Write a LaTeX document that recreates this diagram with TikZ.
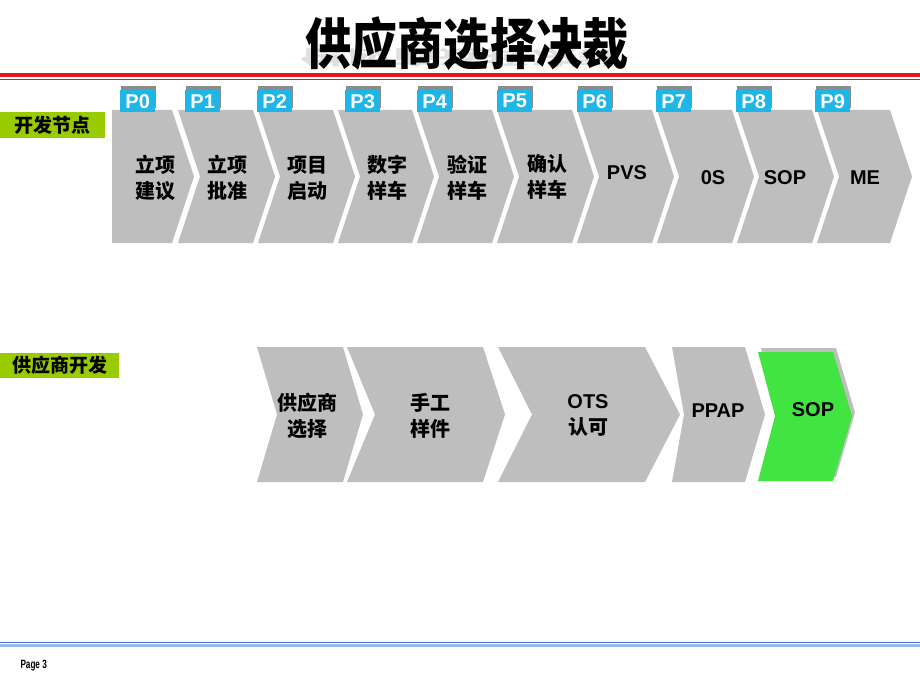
\documentclass[tikz,border=0pt]{standalone}
\usepackage{fontspec}
\setmainfont{Liberation Sans}
\newfontfamily\cjk{Noto Sans CJK SC}
\usepackage{tikz}
\usetikzlibrary{shadows}
\definecolor{chevgray}{HTML}{BEBEBE}
\definecolor{tabgray}{HTML}{8C8C8C}
\definecolor{tabcyan}{HTML}{1EB6E6}
\definecolor{labelgreen}{HTML}{99CC00}
\definecolor{sopgreen}{HTML}{42E442}
\definecolor{linered}{HTML}{E8161B}
\definecolor{lineblue}{HTML}{4472C4}
\definecolor{lightblue}{HTML}{9DB9EA}

\begin{document}
\begin{tikzpicture}[x=1pt,y=-1pt,
    chev/.style={fill=chevgray},
    zhtext/.style={align=center,font=\fontsize{20}{26}\selectfont\bfseries\cjk},
    entext/.style={align=center,font=\fontsize{20}{26}\selectfont\bfseries},
    ptab/.style={fill=tabcyan,text=white,anchor=north west,minimum width=35pt,minimum height=22pt,
      inner sep=0pt,font=\fontsize{20}{22}\selectfont\bfseries,
      drop shadow={shadow xshift=1pt,shadow yshift=4pt,fill=tabgray,opacity=1}},
    sidelabel/.style={fill=labelgreen,anchor=west,inner sep=0pt,
      font=\fontsize{19}{22}\selectfont\bfseries\cjk}]
      \useasboundingbox (0,0) rectangle (920,690);
      % title and rules
      \node[text=gray!25] (shade) at (462,58) {\fontsize{55}{60}\selectfont\bfseries\cjk\scalebox{0.84}[-0.35]{供应商选择决裁}};
      \node (title) at (467,44) {\fontsize{55}{60}\selectfont\bfseries\cjk\scalebox{0.84}[1]{供应商选择决裁}};
      \draw[linered,line width=4pt] (0,75) -- (920,75);
      \draw[linered,line width=1.5pt] (0,79.5) -- (920,79.5);
      \draw[lightblue,line width=3pt] (0,645) -- (920,645);
      \draw[lineblue,line width=1.5pt] (0,642.5) -- (920,642.5);
      \node[anchor=west] (page) at (17,666) {\fontsize{12}{14}\selectfont\bfseries\scalebox{0.68}[1]{Page 3}};

      % side labels
      \node[sidelabel,minimum width=105pt,minimum height=26pt] (devnodes) at (0,125) {开发节点};
      \node[sidelabel,minimum width=119pt,minimum height=25pt] (supdev) at (0,365) {供应商开发};

      % top row chevrons
      \fill[chev] (112,110) -- (172,110) -- (194,176.5) -- (172,243) -- (112,243) -- cycle;
      \fill[chev] (178,110) -- (253,110) -- (275,176.5) -- (253,243) -- (178,243) -- (200,176.5) -- cycle;
      \fill[chev] (258,110) -- (333,110) -- (355,176.5) -- (333,243) -- (258,243) -- (280,176.5) -- cycle;
      \fill[chev] (338,110) -- (412,110) -- (434,176.5) -- (412,243) -- (338,243) -- (360,176.5) -- cycle;
      \fill[chev] (417,110) -- (492,110) -- (514,176.5) -- (492,243) -- (417,243) -- (439,176.5) -- cycle;
      \fill[chev] (497,110) -- (572,110) -- (594,176.5) -- (572,243) -- (497,243) -- (519,176.5) -- cycle;
      \fill[chev] (577,110) -- (652,110) -- (674,176.5) -- (652,243) -- (577,243) -- (599,176.5) -- cycle;
      \fill[chev] (657,110) -- (732,110) -- (754,176.5) -- (732,243) -- (657,243) -- (679,176.5) -- cycle;
      \fill[chev] (737,110) -- (812,110) -- (834,176.5) -- (812,243) -- (737,243) -- (759,176.5) -- cycle;
      \fill[chev] (817,110) -- (890,110) -- (912,176.5) -- (890,243) -- (817,243) -- (839,176.5) -- cycle;

      % phase tabs
      \node[ptab] (p0) at (120,90) {P0};
      \node[ptab] (p1) at (185,90) {P1};
      \node[ptab] (p2) at (257,90) {P2};
      \node[ptab] (p3) at (345,90) {P3};
      \node[ptab] (p4) at (417,90) {P4};
      \node[ptab] (p5) at (497,90) {P5};
      \node[ptab] (p6) at (577,90) {P6};
      \node[ptab] (p7) at (656,90) {P7};
      \node[ptab] (p8) at (736,90) {P8};
      \node[ptab] (p9) at (815,90) {P9};

      % top row texts
      \node[zhtext] (t0) at (155,178) {立项\\建议};
      \node[zhtext] (t1) at (227,178) {立项\\批准};
      \node[zhtext] (t2) at (307,178) {项目\\启动};
      \node[zhtext] (t3) at (387,178) {数字\\样车};
      \node[zhtext] (t4) at (467,178) {验证\\样车};
      \node[zhtext] (t5) at (547,177) {确认\\样车};
      \node[entext] (t6) at (627,173) {PVS};
      \node[entext] (t7) at (713,178) {0S};
      \node[entext] (t8) at (785,178) {SOP};
      \node[entext] (t9) at (865,178) {ME};

      % supplier row chevrons
      \fill[chev] (257,347) -- (343,347) -- (363,414.5) -- (343,482) -- (257,482) -- (277,414.5) -- cycle;
      \fill[chev] (347,347) -- (483,347) -- (505,414.5) -- (483,482) -- (347,482) -- (375,414.5) -- cycle;
      \fill[chev] (498,347) -- (645,347) -- (680,414.5) -- (645,482) -- (498,482) -- (532,414.5) -- cycle;
      \fill[chev] (672,347) -- (745,347) -- (765,414.5) -- (745,482) -- (672,482) -- (684,414.5) -- cycle;
      \fill[chev] (761,348) -- (836,348) -- (855,412.5) -- (836,477) -- (761,477) -- (778,412.5) -- cycle;
      \fill[sopgreen] (758,352) -- (833,352) -- (852,416) -- (833,481) -- (758,481) -- (775,416) -- cycle;

      % supplier row texts
      \node[zhtext] (s0) at (307,416) {供应商\\选择};
      \node[zhtext] (s1) at (430,416) {手工\\样件};
      \node[entext] (s2) at (588,415) {OTS\\\cjk 认可};
      \node[entext] (s3) at (718,411) {PPAP};
      \node[entext] (s4) at (813,410) {SOP};
\end{tikzpicture}
\end{document}
